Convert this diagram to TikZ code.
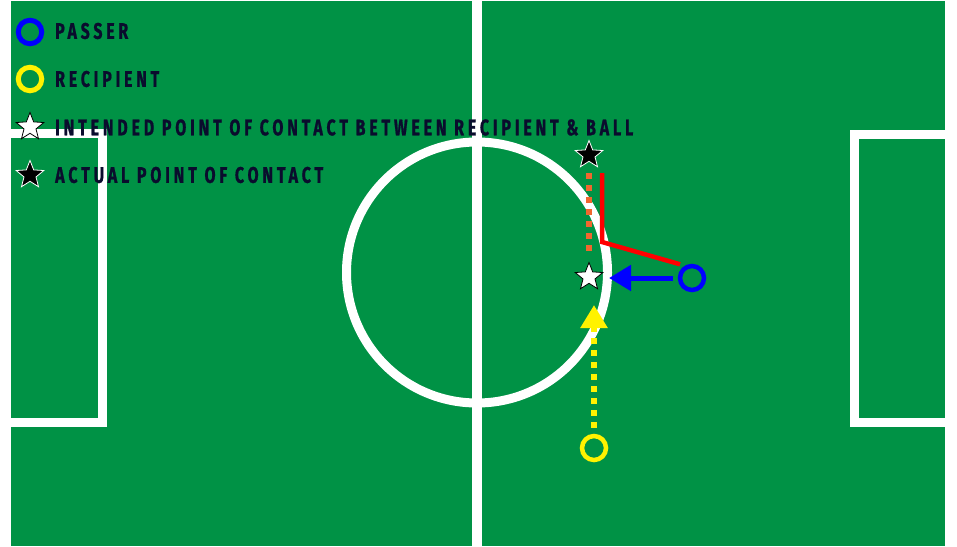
\documentclass[tikz,border=0pt]{standalone}
\usepackage{fontspec}
\usepackage{graphicx}
\usetikzlibrary{shapes.geometric,arrows.meta}
\newfontfamily\legfont[LetterSpace=24,FakeBold=1]{Fira Sans}
\definecolor{pitch}{RGB}{0,146,69}
\definecolor{legink}{RGB}{10,12,45}
\definecolor{dotorange}{RGB}{241,103,46}
\tikzset{
  fieldline/.style={draw=white, line width=9pt, line join=miter},
  ring/.style={circle, draw=#1, line width=5pt, minimum size=23.5pt, inner sep=0pt},
  bigring/.style={circle, draw=#1, line width=4.5pt, minimum size=24pt, inner sep=0pt},
  starshape/.style={star, star points=5, star point ratio=2.3, minimum size=29pt, inner sep=0pt, line width=0.8pt},
  whitestar/.style={starshape, draw=black, fill=white},
  blackstar/.style={starshape, draw=white, fill=black},
  legtext/.style={anchor=west, inner sep=0pt, text=legink},
  dotline/.style={draw=#1, line width=5.5pt, dash pattern=on 5.5pt off 6.5pt},
}
\newcommand{\legline}[3]{\resizebox{#1}{#2}{\legfont\bfseries #3}}
\begin{document}
\begin{tikzpicture}[x=1pt,y=-1pt]
\useasboundingbox (0,0) rectangle (957,546);
\fill[white] (0,0) rectangle (957,546);
\fill[pitch] (11,1) rectangle (945,546);
% field markings
\draw[fieldline] (11,133.5) -- (102,133.5) -- (102,422) -- (11,422);
\draw[fieldline] (945,134) -- (854.5,134) -- (854.5,422) -- (945,422);
\draw[fieldline] (477,272.5) circle[radius=130.5pt];
\draw[draw=white, line width=10pt] (477,1) -- (477,546);
% legend
\node[ring=blue] (lp) at (30,32) {};
\node[ring=yellow] (lr) at (30,79) {};
\node[whitestar] (li) at (30,127) {};
\node[blackstar] (la) at (30,175) {};
\node[legtext] (tp) at (55,31) {\legline{73pt}{16pt}{PASSER}};
\node[legtext] (tr) at (55,79) {\legline{104pt}{16pt}{RECIPIENT}};
\node[legtext] (ti) at (55,127.5) {\legline{578pt}{16pt}{INTENDED POINT OF CONTACT BETWEEN RECIPIENT \& BALL}};
\node[legtext] (ta) at (55,175) {\legline{268pt}{16pt}{ACTUAL POINT OF CONTACT}};
% play
\node[bigring=blue] (ps) at (692,278) {};
\node[bigring=yellow] (rc) at (594,448) {};
\node[blackstar] (actual) at (589,155) {};
\node[whitestar] (intended) at (589,277) {};
\coordinate (bluetip) at (609,278);
\coordinate (yellowtip) at (594,305);
\coordinate (rbend) at (602,242);
\coordinate (rtop) at (602,173);
\draw[dotline=dotorange, shorten <=11.5pt, shorten >=10.5pt] (actual) -- (intended);
\draw[red, line width=4.5pt, line join=miter, shorten <=5pt] (ps.120) -- (rbend) -- (rtop);
\draw[blue, line width=5pt, shorten <=5pt, -{Triangle[length=22pt,width=25pt]}] (ps) -- (bluetip);
\draw[dotline=yellow, shorten <=6pt, -{Triangle[length=23pt,width=26pt]}] (rc) -- (yellowtip);
\end{tikzpicture}
\end{document}
